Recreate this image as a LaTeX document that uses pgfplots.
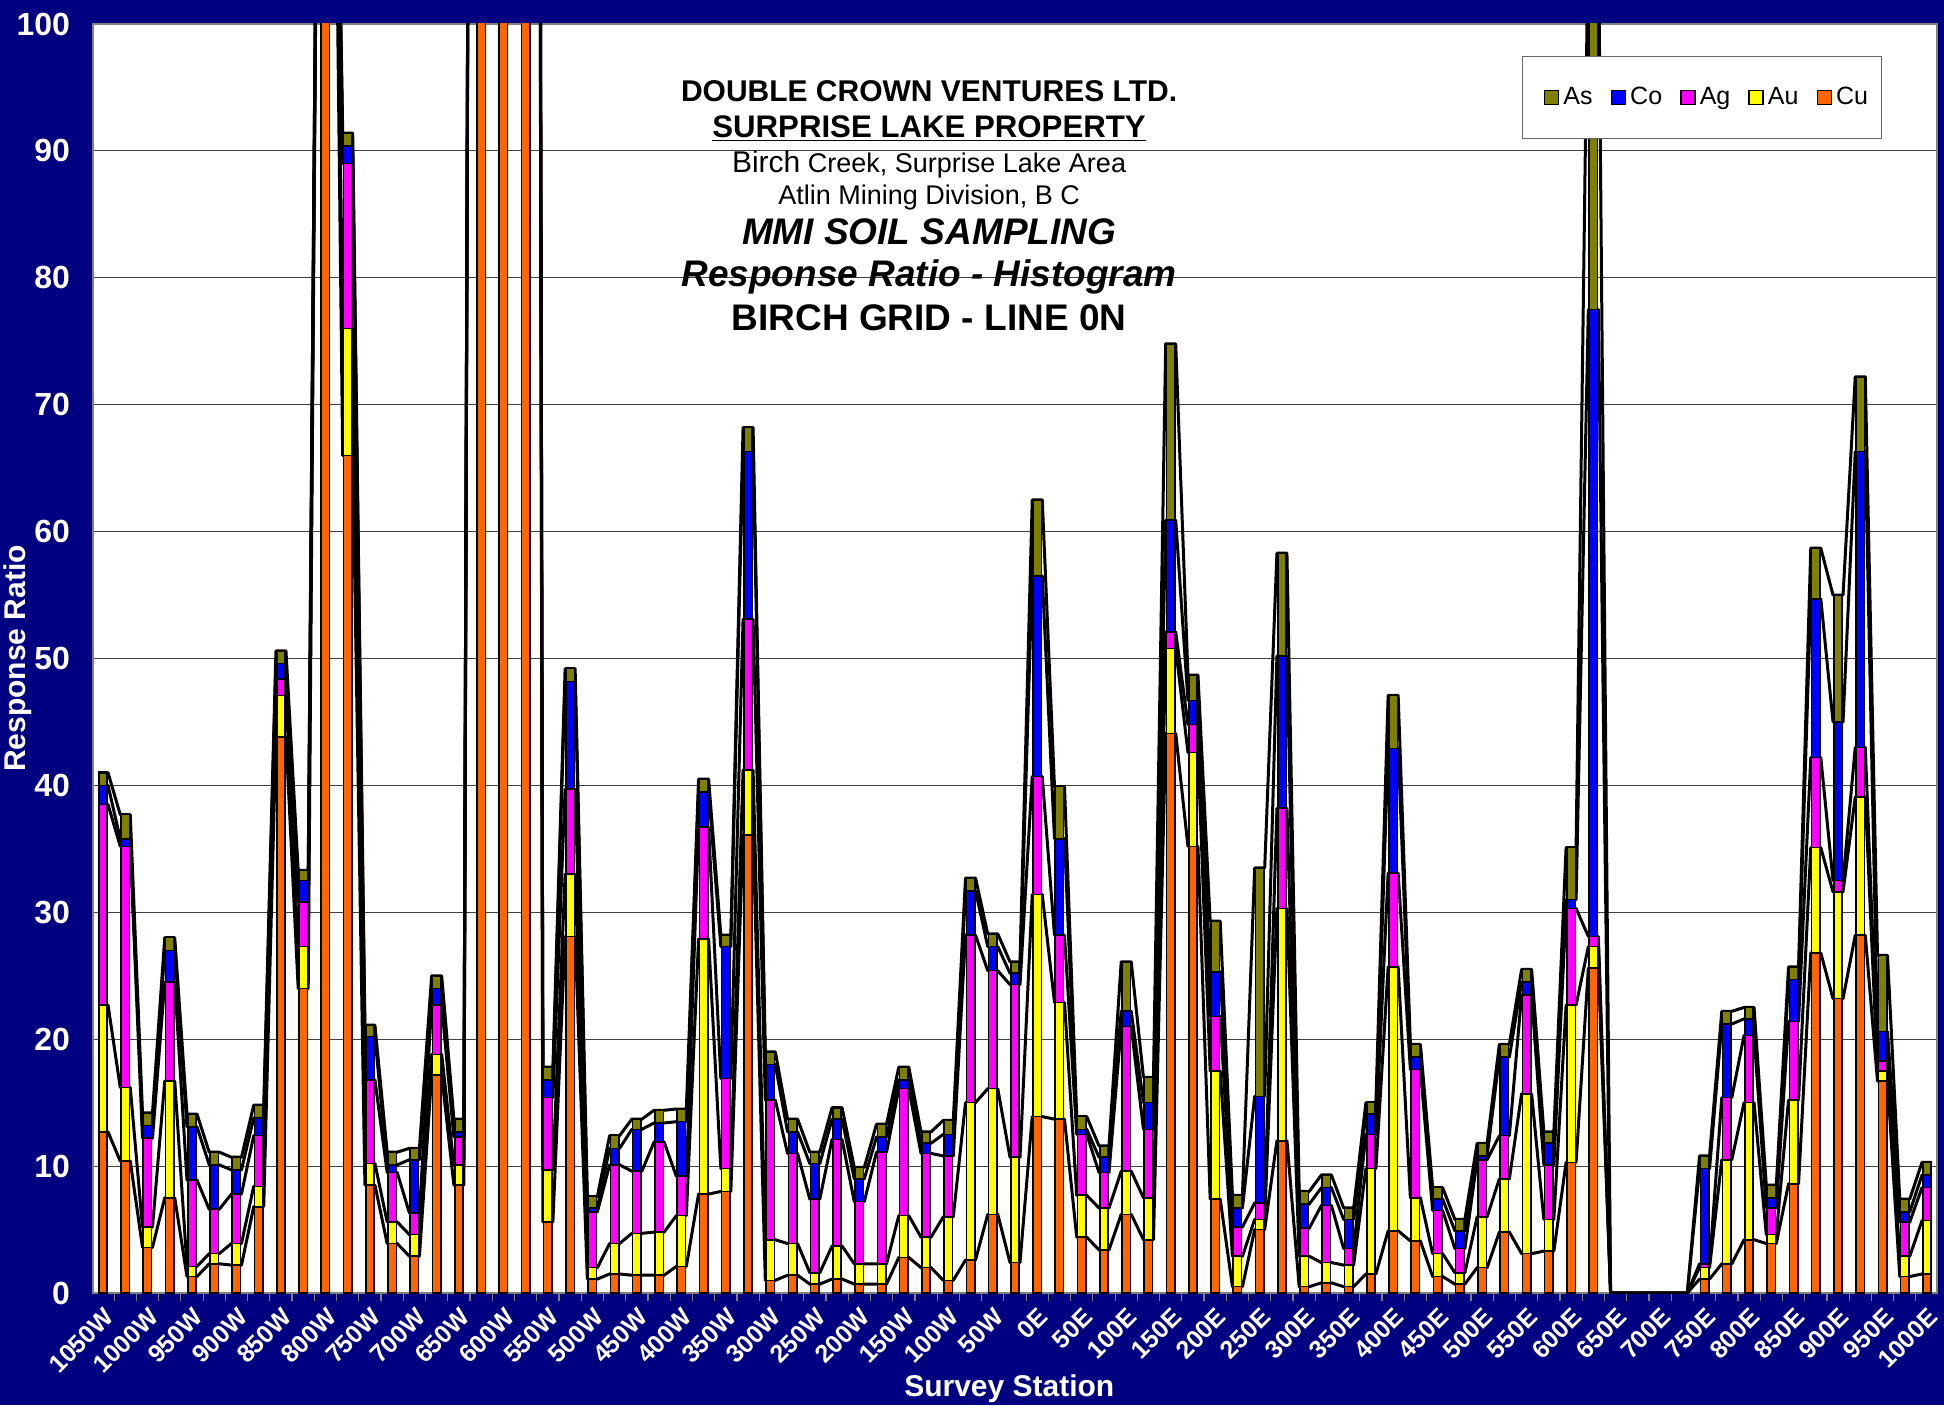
\documentclass[border=0pt]{standalone}
\usepackage{pgfplots}
\pgfplotsset{compat=1.18}
\usepackage{pgfplotstable}
\usepackage{fontspec}
\setmainfont{Liberation Sans}
\definecolor{navybg}{HTML}{000080}
\definecolor{cuc}{HTML}{FF6600}
\definecolor{auc}{HTML}{FFFF00}
\definecolor{agc}{HTML}{FF00FF}
\definecolor{coc}{HTML}{0000FF}
\definecolor{asc}{HTML}{808000}

% cumulative tops of the stacked segments (Cu, Cu+Au, +Ag, +Co, +As)
\pgfplotstableread{
x CuT AuT AgT CoT AsT
0 12.7 22.7 38.5 40.0 41.0
1 10.4 16.2 35.2 35.8 37.7
2 3.6 5.2 12.2 13.2 14.2
3 7.5 16.7 24.5 27.0 28.0
4 1.3 2.1 8.9 13.1 14.1
5 2.3 3.1 6.6 10.1 11.1
6 2.2 3.9 7.8 9.7 10.7
7 6.8 8.4 12.4 13.8 14.8
8 43.8 47.1 48.4 49.6 50.6
9 24.0 27.3 30.8 32.5 33.3
10 150 150 150 150 150
11 66.0 76.0 89.0 90.4 91.4
12 8.5 10.2 16.8 20.2 21.1
13 3.9 5.6 9.5 10.1 11.1
14 2.9 4.6 6.3 10.5 11.4
15 17.2 18.8 22.7 24.0 25.0
16 8.5 10.1 12.3 12.7 13.7
17 300 300 300 300 300
18 350 350 350 350 350
19 450 450 450 450 450
20 5.6 9.7 15.4 16.8 17.8
21 28.1 33.0 39.7 48.2 49.2
22 1.1 2.0 6.4 6.7 7.6
23 1.5 3.9 10.1 11.4 12.4
24 1.4 4.7 9.6 12.9 13.7
25 1.4 4.8 11.9 13.4 14.4
26 2.1 6.1 9.2 13.5 14.5
27 7.8 27.9 36.7 39.5 40.5
28 8.0 9.8 16.9 27.3 28.2
29 36.1 41.2 53.1 66.3 68.2
30 1.0 4.2 15.2 18.0 19.0
31 1.4 3.9 11.0 12.7 13.7
32 0.7 1.6 7.4 10.2 11.1
33 1.1 3.7 12.1 13.7 14.6
34 0.7 2.3 7.2 9.0 9.9
35 0.7 2.3 11.1 12.3 13.3
36 2.8 6.1 16.1 16.8 17.8
37 2.0 4.4 11.0 11.8 12.7
38 1.0 6.0 10.8 12.5 13.6
39 2.6 15.0 28.2 31.7 32.7
40 6.2 16.1 25.4 27.3 28.3
41 2.4 10.7 24.3 25.2 26.1
42 13.9 31.4 40.7 56.5 62.5
43 13.7 22.9 28.2 35.8 39.9
44 4.4 7.7 12.5 12.9 13.9
45 3.4 6.7 9.5 10.7 11.6
46 6.2 9.6 21.0 22.2 26.1
47 4.2 7.5 12.9 15.0 17.0
48 44.1 50.8 52.1 60.9 74.8
49 35.2 42.6 44.8 46.7 48.7
50 7.4 17.5 21.8 25.3 29.3
51 0.5 2.9 5.2 6.7 7.7
52 5.0 5.8 7.1 15.5 33.5
53 12.0 30.3 38.2 50.2 58.3
54 0.5 2.9 5.1 7.0 8.0
55 0.8 2.4 6.9 8.3 9.3
56 0.5 2.2 3.5 5.8 6.7
57 1.5 9.8 12.5 14.1 15.0
58 4.9 25.7 33.1 42.9 47.1
59 4.1 7.5 17.6 18.6 19.6
60 1.3 3.1 6.5 7.4 8.3
61 0.7 1.6 3.5 4.9 5.8
62 2.0 6.0 10.5 10.8 11.8
63 4.8 9.0 12.4 18.6 19.6
64 3.1 15.7 23.5 24.5 25.5
65 3.3 5.8 10.1 11.8 12.7
66 10.3 22.7 30.3 31.0 35.1
67 25.6 27.3 28.1 77.5 108
68 0 0 0 0 0
69 0 0 0 0 0
70 0 0 0 0 0
71 0 0 0 0 0
72 1.1 2.0 2.3 9.8 10.8
73 2.3 10.5 15.4 21.2 22.2
74 4.2 15.0 20.3 21.6 22.5
75 3.9 4.6 6.7 7.5 8.5
76 8.6 15.2 21.4 24.7 25.7
77 26.8 35.1 42.2 54.7 58.7
78 23.2 31.6 32.5 45.0 55.0
79 28.2 39.1 43.0 66.3 72.2
80 16.7 17.5 18.3 20.6 26.6
81 1.3 2.9 5.6 6.4 7.4
82 1.5 5.7 8.3 9.3 10.3
}\data

% series-line table: every station twice, at the left and right edge of its bar
\pgfplotsset{
  /pgfplots/table/create on use/lx/.style={create col/assign/.code={%
     \pgfmathtruncatemacro\srcrow{floor(\pgfplotstablerow/2)}%
     \pgfmathtruncatemacro\parity{\pgfplotstablerow-2*\srcrow}%
     \pgfmathsetmacro\xv{\srcrow-0.225+0.45*\parity}%
     \pgfkeyslet{/pgfplots/table/create col/next content}\xv}},
  dupcol/.style 2 args={/pgfplots/table/create on use/#1/.style={create col/assign/.code={%
     \pgfmathtruncatemacro\srcrow{floor(\pgfplotstablerow/2)}%
     \pgfplotstablegetelem{\srcrow}{#2}\of\data
     \pgfkeyslet{/pgfplots/table/create col/next content}\pgfplotsretval}}},
}
\pgfplotsset{dupcol={LAs}{AsT}, dupcol={LCo}{CoT}, dupcol={LAg}{AgT}, dupcol={LAu}{AuT}, dupcol={LCu}{CuT}}
\pgfplotstablenew[columns={lx,LAs,LCo,LAg,LAu,LCu}]{166}\lines

\pgfplotsset{
  mybar/.style={ybar, bar width=4.2pt, bar shift=0pt, draw=black, line width=0.8pt, fill=#1},
  serline/.style={black, line width=1.5pt, forget plot, line join=round},
}

\begin{document}
\begin{tikzpicture}
\useasboundingbox (-46.5pt,-56pt) rectangle (925.5pt,646.5pt);
\fill[navybg] (-46.5pt,-56pt) rectangle (925.5pt,646.5pt);
\begin{axis}[
  at={(0pt,0pt)}, anchor=south west,
  scale only axis, width=922pt, height=634.5pt,
  xmin=-0.45, xmax=82.45, ymin=0, ymax=100,
  axis background/.style={fill=white},
  axis line style={draw=gray, line width=1pt},
  ymajorgrids, grid style={draw=black!75, line width=0.5pt},
  ytick={0,10,...,100},
  xtick={0,2,...,82},
  xticklabels={1050W,1000W,950W,900W,850W,800W,750W,700W,650W,600W,550W,500W,450W,400W,350W,300W,250W,200W,150W,100W,50W,0E,50E,100E,150E,200E,250E,300E,350E,400E,450E,500E,550E,600E,650E,700E,750E,800E,850E,900E,950E,1000E},
  minor xtick={-0.5,0.5,...,82.5},
  tick pos=left, tick align=outside,
  major tick length=0pt, minor tick length=4pt,
  minor tick style={draw=gray, line width=0.6pt},
  /pgf/number format/assume math mode=true,
  yticklabel style={font=\fontsize{16}{19}\selectfont\bfseries, text=white},
  yticklabel shift=8pt,
  xticklabel style={font=\fontsize{12.5}{14}\selectfont\bfseries, text=white, rotate=45, anchor=north east, inner sep=1pt},
  xticklabel shift=5pt,
  ylabel={Response Ratio},
  ylabel style={font=\fontsize{15}{18}\selectfont\bfseries, text=white, at={(axis description cs:-0.0410,0.5)}, anchor=center},
  xlabel={Survey Station},
  xlabel style={font=\fontsize{15}{18}\selectfont\bfseries, text=white, at={(axis description cs:0.4969,-0.0757)}, anchor=center},
  legend columns=5,
  legend style={at={(rel axis cs:0.970,0.975)}, anchor=north east, draw=black!60, fill=white, line width=0.6pt,
    font=\fontsize{12.5}{15}\selectfont, inner xsep=4.5pt, inner ysep=13.5pt,
    /tikz/every even column/.append style={column sep=1pt}},
  legend image code/.code={\path (0pt,0pt); \draw[#1, draw=black, line width=0.8pt] (6pt,-3.5pt) rectangle (13pt,3.5pt);},
]
% series lines (bar edge to bar edge)
\addplot[serline] table[x=lx, y=LAs] {\lines};
\addplot[serline] table[x=lx, y=LCo] {\lines};
\addplot[serline] table[x=lx, y=LAg] {\lines};
\addplot[serline] table[x=lx, y=LAu] {\lines};
\addplot[serline] table[x=lx, y=LCu] {\lines};
% bars (drawn overlapping from tallest to shortest)
\addplot[mybar=asc] table[x=x, y=AsT] {\data};
\addlegendentry{As}
\addplot[mybar=coc] table[x=x, y=CoT] {\data};
\addlegendentry{Co}
\addplot[mybar=agc] table[x=x, y=AgT] {\data};
\addlegendentry{Ag}
\addplot[mybar=auc] table[x=x, y=AuT] {\data};
\addlegendentry{Au}
\addplot[mybar=cuc] table[x=x, y=CuT] {\data};
\addlegendentry{Cu}
% title block
\node[anchor=base, font=\fontsize{15}{18}\selectfont\bfseries] at (rel axis cs:0.4534,0.9388) {DOUBLE CROWN VENTURES LTD.};
\node[anchor=base, font=\fontsize{15.6}{18}\selectfont\bfseries] at (rel axis cs:0.4534,0.9105) {\underline{SURPRISE LAKE PROPERTY}};
\node[anchor=base, font=\fontsize{13.5}{16}\selectfont] at (rel axis cs:0.4534,0.8831) {{\fontsize{15}{16}\selectfont Birch} Creek, Surprise Lake Area};
\node[anchor=base, font=\fontsize{13.5}{16}\selectfont] at (rel axis cs:0.4534,0.8577) {Atlin Mining Division, B C};
\node[anchor=base, font=\fontsize{18.5}{22}\selectfont\bfseries\itshape] at (rel axis cs:0.4534,0.8265) {MMI SOIL SAMPLING};
\node[anchor=base, font=\fontsize{18.5}{22}\selectfont\bfseries\itshape] at (rel axis cs:0.4534,0.7933) {Response Ratio - Histogram};
\node[anchor=base, font=\fontsize{18.5}{22}\selectfont\bfseries] at (rel axis cs:0.4534,0.7581) {BIRCH GRID - LINE 0N};
\end{axis}
\end{tikzpicture}
\end{document}
